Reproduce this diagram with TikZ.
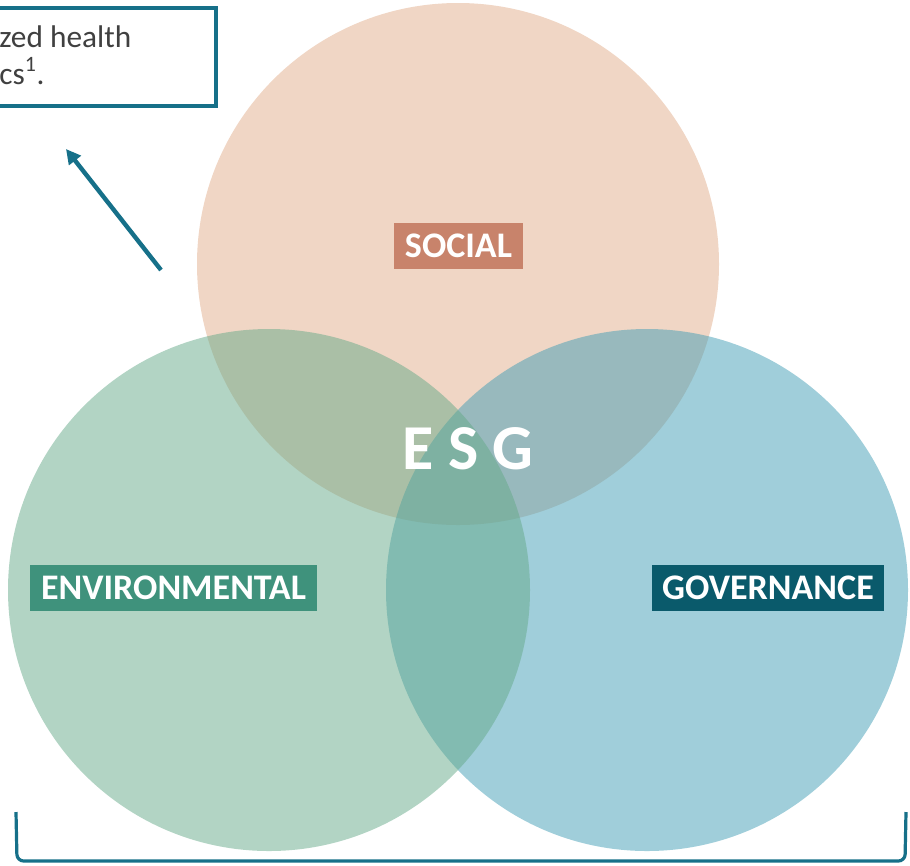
\documentclass[tikz,border=0pt]{standalone}
\usepackage{fontspec}
\setmainfont{Carlito}
\usepackage{xcolor}
\usetikzlibrary{arrows.meta}

\definecolor{socialfill}{RGB}{225,173,139}
\definecolor{envfill}{RGB}{101,169,137}
\definecolor{govfill}{RGB}{65,157,181}
\definecolor{socialtag}{RGB}{200,131,107}
\definecolor{envtag}{RGB}{63,146,124}
\definecolor{govtag}{RGB}{10,90,107}
\definecolor{frameteal}{RGB}{22,112,137}
\definecolor{notegrey}{RGB}{64,64,64}

\tikzset{
  pillar/.style={fill opacity=0.5},
  tag/.style={text=white, font=\fontsize{27}{32}\selectfont\bfseries,
    minimum height=34.5pt, inner xsep=8pt, inner ysep=0pt},
  frame/.style={draw=frameteal, line width=2.8pt},
  notetext/.style={text=notegrey, font=\fontsize{23.5}{28}\selectfont, inner sep=0pt}
}

\begin{document}
\begin{tikzpicture}[x=0.75pt, y=-0.75pt]
            \useasboundingbox (0,0) rectangle (910,865);
            % the three circles
            \fill[socialfill, pillar] (458,264) circle[radius=261];
            \fill[govfill, pillar] (647,590) circle[radius=261];
            \fill[envfill, pillar] (269,590) circle[radius=261];
            % labels
            \node[tag, fill=socialtag] (social) at (458.5,246) {SOCIAL};
            \node[tag, fill=envtag] (environmental) at (173.5,588) {ENVIRONMENTAL};
            \node[tag, fill=govtag] (governance) at (768,588) {GOVERNANCE};
            \node[text=white, font=\fontsize{48}{52}\selectfont\bfseries] (esg) at (468,449) {E S G};
            % note box top left
            \draw[frame] (-30,8) rectangle (216,106);
            \node[notetext, anchor=base west] (line1) at (-1,47) {zed health};
            \node[notetext, anchor=base west] (line2) at (-1,84) {cs\textsuperscript{1}.};
            \coordinate (tail) at (161,270);
            \coordinate (tip) at (66,149);
            \draw[frame, line width=3.3pt, -{Triangle[length=11pt,width=11pt]}] (tail) -- (tip);
            % bracket under the circles
            \draw[frame, line width=2.4pt, rounded corners=5] (16,812) -- (17,861) -- (905,861) -- (906,812);
        \end{tikzpicture}
\end{document}
